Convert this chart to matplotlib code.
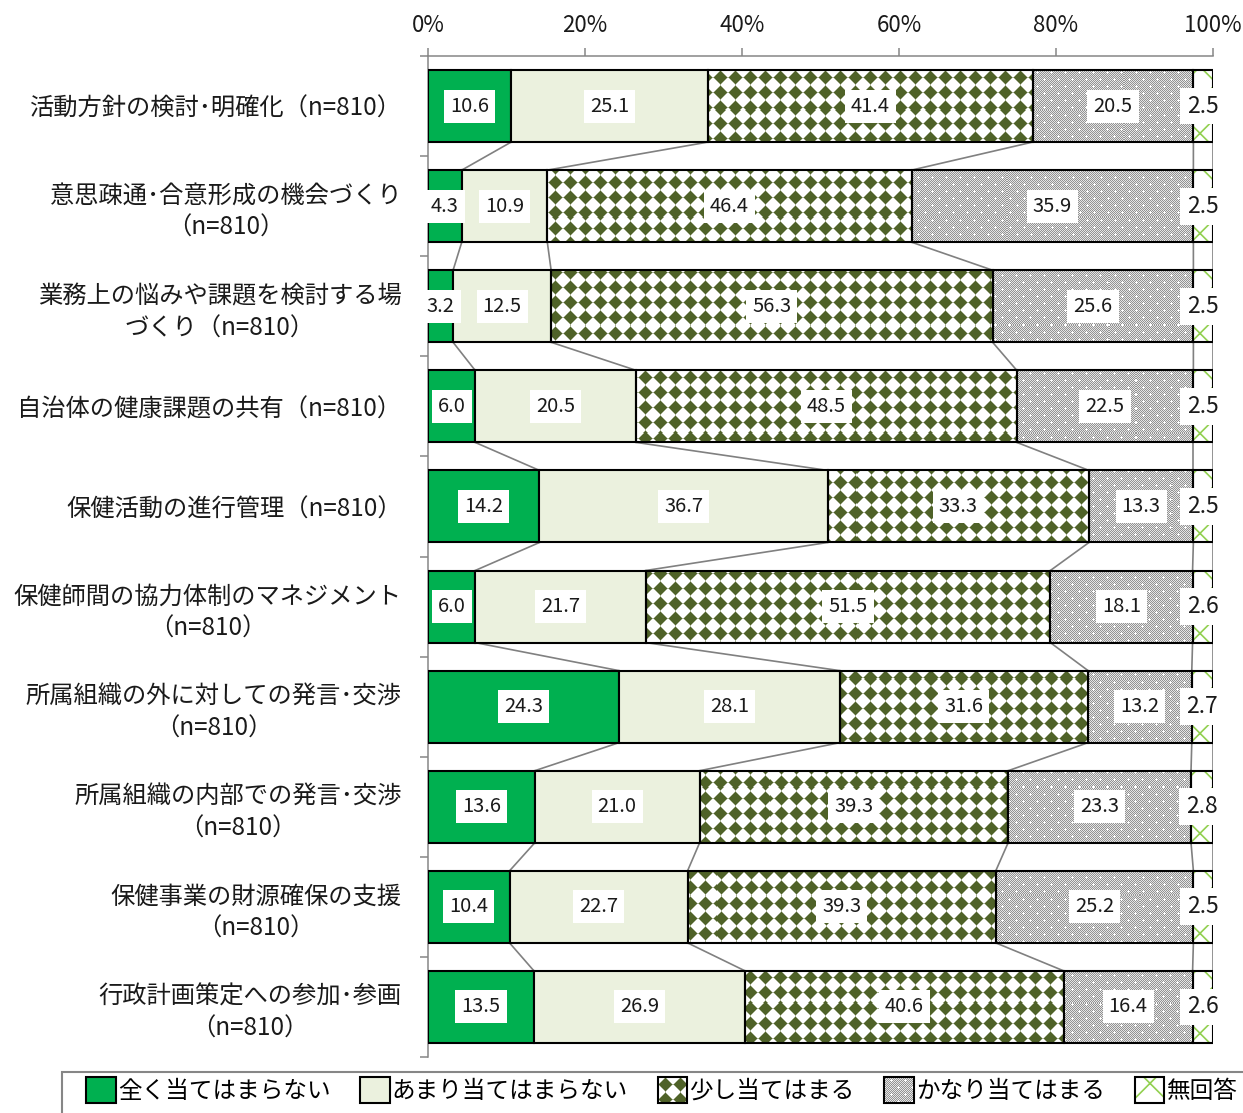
import numpy as np
import matplotlib
matplotlib.use("Agg")
import matplotlib.pyplot as plt
from matplotlib.patches import Patch, Rectangle
from matplotlib.legend_handler import HandlerTuple

plt.rcParams['font.family'] = ['Noto Sans CJK JP', 'DejaVu Sans']
plt.rcParams['hatch.linewidth'] = 1.2

# ---- data ----
categories = [
    "活動方針の検討･明確化（n=810）",
    "意思疎通･合意形成の機会づくり\n（n=810）",
    "業務上の悩みや課題を検討する場\nづくり（n=810）",
    "自治体の健康課題の共有（n=810）",
    "保健活動の進行管理（n=810）",
    "保健師間の協力体制のマネジメント\n（n=810）",
    "所属組織の外に対しての発言･交渉\n（n=810）",
    "所属組織の内部での発言･交渉\n（n=810）",
    "保健事業の財源確保の支援\n（n=810）",
    "行政計画策定への参加･参画\n（n=810）",
]
series_names = ["全く当てはまらない", "あまり当てはまらない", "少し当てはまる",
                "かなり当てはまる", "無回答"]
not_at_all = [10.6, 4.3, 3.2, 6.0, 14.2, 6.0, 24.3, 13.6, 10.4, 13.5]
not_much = [25.1, 10.9, 12.5, 20.5, 36.7, 21.7, 28.1, 21.0, 22.7, 26.9]
somewhat = [41.4, 46.4, 56.3, 48.5, 33.3, 51.5, 31.6, 39.3, 39.3, 40.6]
quite = [20.5, 35.9, 25.6, 22.5, 13.3, 18.1, 13.2, 23.3, 25.2, 16.4]
no_answer = [2.5, 2.5, 2.5, 2.5, 2.5, 2.6, 2.7, 2.8, 2.5, 2.6]
xticks = [0, 20, 40, 60, 80, 100]

W, H = 1243, 1113
GREEN = '#00B050'
PALE = '#EBF1DE'
OLIVE = np.array([0x4F, 0x62, 0x28]) / 255
LIME = '#92D050'
AXGRAY = '#868686'


def diamond_tile(h, w):
    yy, xx = np.mgrid[0:h, 0:w]
    d = np.abs(xx % 15 - 7) + np.abs(yy % 15 - 7)
    img = np.ones((h, w, 3))
    img[d <= 6] = OLIVE
    img[d == 7] = (OLIVE + 1) / 2
    return img


def gray_tile(h, w):
    yy, xx = np.mgrid[0:h, 0:w]
    dark = np.array([0.58, 0.58, 0.58])
    light = np.array([0.9, 0.9, 0.9])
    img = np.where(((xx + yy) % 2 == 0)[..., None], dark, light)
    r = yy // 7
    dy = yy - (r * 7 + 3)
    shift = 7 * (r % 2)
    dx = xx - (((xx - shift) // 14) * 14 + shift + 7)
    img[(np.abs(dx) + np.abs(dy)) <= 1] = 1.0
    return img


values = np.array([not_at_all, not_much, somewhat, quite, no_answer]).T
widths = values / values.sum(axis=1, keepdims=True) * 100
lefts = np.cumsum(widths, axis=1) - widths
rights = lefts + widths
n = len(categories)
y = np.arange(n)
bh = 0.72

fig = plt.figure(figsize=(W / 100, H / 100), dpi=100)
ax_l, ax_r, ax_t, ax_b = 428, 1213, 56, 1057
ax = fig.add_axes([ax_l / W, 1 - ax_b / H, (ax_r - ax_l) / W, (ax_b - ax_t) / H])
ext = (0, 100, n - 0.5, -0.5)
diam_full = diamond_tile(ax_b - ax_t, ax_r - ax_l)
gray_full = gray_tile(ax_b - ax_t, ax_r - ax_l)

faces = [GREEN, PALE, 'none', 'none', 'white']
for k in range(5):
    if k == 4:
        ax.barh(y, widths[:, k], left=lefts[:, k], height=bh, color='white',
                edgecolor=LIME, hatch='x', linewidth=0, zorder=2)
    bars = ax.barh(y, widths[:, k], left=lefts[:, k], height=bh,
                   facecolor='none' if k == 4 else faces[k],
                   edgecolor='black', linewidth=1.5, zorder=3)
    if k in (2, 3):
        tile = diam_full if k == 2 else gray_full
        for b in bars:
            im = ax.imshow(tile, extent=ext, aspect='auto',
                           interpolation='nearest', zorder=2)
            im.set_clip_path(b)

# series lines
for i in range(n - 1):
    for k in range(5):
        ax.plot([rights[i, k], rights[i + 1, k]], [i + bh / 2, i + 1 - bh / 2],
                color='#808080', lw=1.2, zorder=1)

# value labels
for i in range(n):
    for k in range(5):
        ax.text(lefts[i, k] + widths[i, k] / 2, i, f"{values[i, k]:.1f}",
                ha='center', va='center', fontsize=16.5 if k == 4 else 14.5,
                color='#1a1a1a', zorder=5,
                bbox=dict(boxstyle='square,pad=0.3', fc='white', ec='none'))

ax.set_xlim(0, 100)
ax.set_ylim(n - 0.5, -0.5)
ax.xaxis.tick_top()
ax.set_xticks(xticks)
ax.set_xticklabels([f"{t}%" for t in xticks])
ax.tick_params(axis='x', length=6, width=1.1, color=AXGRAY, pad=8,
               labelsize=16, labelcolor='#1a1a1a')
ax.set_yticks(y)
ax.set_yticklabels(categories, fontsize=17.5, color='#1a1a1a',
                   multialignment='center', linespacing=1.3)
ax.set_yticks(np.arange(n + 1) - 0.5, minor=True)
ax.tick_params(axis='y', which='major', length=0, pad=19)
ax.tick_params(axis='y', which='minor', length=6, width=1.1, color=AXGRAY)
for s in ('right', 'bottom'):
    ax.spines[s].set_visible(False)
for s in ('top', 'left'):
    ax.spines[s].set_color(AXGRAY)
    ax.spines[s].set_linewidth(1.1)

# legend
handles = [
    Patch(facecolor=GREEN, edgecolor='black', linewidth=1.5),
    Patch(facecolor=PALE, edgecolor='black', linewidth=1.5),
    Patch(facecolor='none', edgecolor='black', linewidth=1.5),
    Patch(facecolor='none', edgecolor='black', linewidth=1.5),
    (Patch(facecolor='white', edgecolor=LIME, hatch='x', linewidth=0),
     Patch(facecolor='none', edgecolor='black', linewidth=1.5)),
]
leg = fig.legend(handles, series_names, loc='upper left',
                 bbox_to_anchor=(86 / W, 1 - 1077 / H), ncol=5, frameon=False,
                 fontsize=17, handlelength=1.25, handleheight=1.3,
                 handletextpad=0.1, columnspacing=1.25, borderpad=0,
                 borderaxespad=0,
                 handler_map={tuple: HandlerTuple(ndivide=1, pad=0)})
fig.add_artist(Rectangle((62 / W, -0.1), 1.1, 0.1 + 1 - 1072 / H,
                         transform=fig.transFigure, fc='none', ec=AXGRAY,
                         lw=1.5))

fig.canvas.draw()
renderer = fig.canvas.get_renderer()
lh = leg.legend_handles
for k, fn in ((2, diamond_tile), (3, gray_tile)):
    bb = lh[k].get_window_extent(renderer)
    x0, y0 = int(round(bb.x0)), int(round(bb.y0))
    w, h = int(round(bb.width)), int(round(bb.height))
    fig.figimage(fn(h, w), xo=x0, yo=y0, origin='upper', zorder=0)

fig.savefig("out.png", dpi=100)
